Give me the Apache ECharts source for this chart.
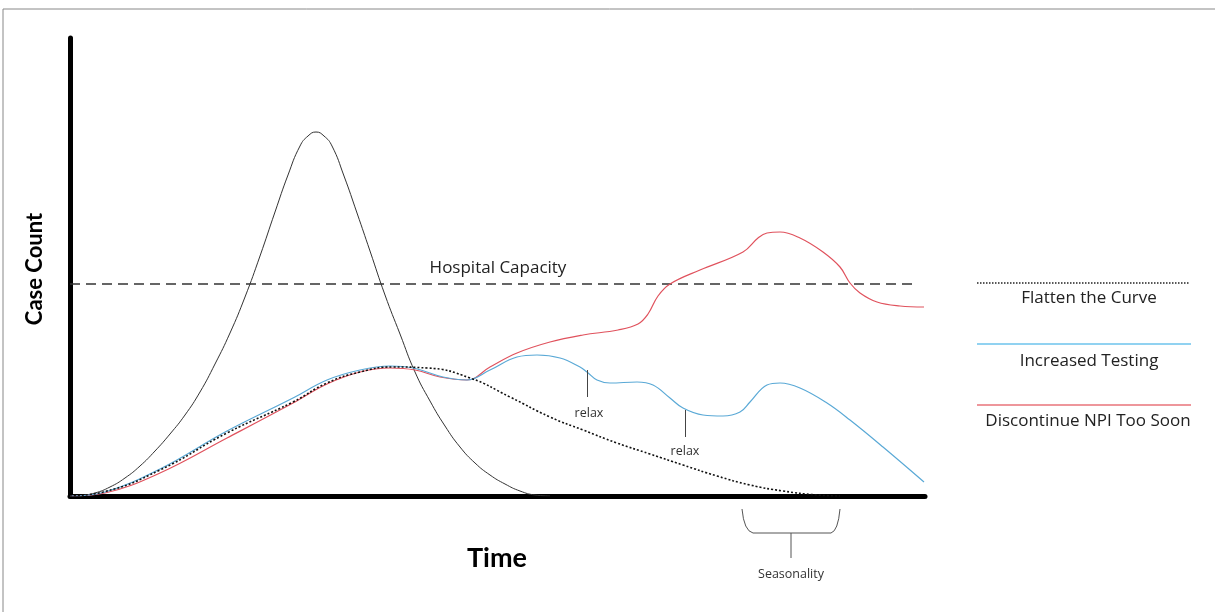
<!DOCTYPE html>
<html><head><meta charset="utf-8">
<script src="https://cdn.jsdelivr.net/npm/echarts@6/dist/echarts.min.js"></script>
<style>html,body{margin:0;padding:0;background:#fff}#c{width:1215px;height:612px}</style>
</head><body><div id="c"></div>
<script>
// time units (arbitrary) and case counts (arbitrary)
const noIntervention = [[10,0],[25,3],[40,9],[55,18],[70,30],[85,45],[100,62],[115,81],[130,104],[145,132],[160,163],[175,199],[190,240],[205,284],[218,321],[230,350],[238,360],[246,364],[254,360],[262,350],[274,320],[287,283],[300,245],[315,201],[330,162],[345,124],[360,95],[375,70],[390,49],[405,33],[420,21],[435,12],[450,5],[465,1],[480,0]];
const flattenCurve = [[0,0],[33,4],[90,26],[157,63],[223,94],[257,113],[290,124],[323,129],[357,128],[400,118],[440,99],[480,79],[513,66],[547,53],[580,42],[613,31],[647,20],[680,11],[713,5],[747,1],[770,0]];
const increasedTesting = [[0,0],[35,4],[90,27],[157,65],[223,98],[257,116],[290,126],[320,130],[343,128],[373,119],[397,116],[420,126],[447,139],[467,141],[490,138],[510,129],[517,124],[527,116],[540,113],[567,114],[583,111],[600,98],[613,88],[633,81],[653,80],[670,84],[680,94],[697,111],[710,113],[730,108],[757,93],[780,76],[813,49],[854,14]];
const discontinueNPI = [[0,0],[35,3],[90,23],[157,58],[223,93],[257,112],[290,124],[320,128],[345,126],[370,119],[397,116],[420,129],[447,143],[480,154],[513,161],[548,166],[568,172],[578,182],[588,200],[600,212],[630,226],[673,244],[688,258],[697,263],[710,264],[730,258],[753,244],[770,229],[780,213],[790,203],[807,194],[830,190],[854,189]];
const hospitalCapacity = [[0,212],[848,212]];
const relaxMarks = [[[517,126],[517,99]],[[615,86],[615,59]]];
const legendNames = ['Flatten the Curve','Increased Testing','Discontinue NPI Too Soon'];

const FONT = '"Open Sans", Lato, sans-serif';
const BFONT = 'Lato, "Open Sans", sans-serif';
const BLUE = '#5aa9d6', RED = '#e0525d';
const chart = echarts.init(document.getElementById('c'));
chart.setOption({
  animation:false,
  backgroundColor:'#fff',
  grid:{left:70,right:290,top:38,bottom:116},
  xAxis:{type:'value',min:0,max:855,axisLine:{show:true,onZero:false,lineStyle:{color:'#000',width:5}},axisTick:{show:false},axisLabel:{show:false},splitLine:{show:false}},
  yAxis:{type:'value',min:0,max:458,axisLine:{show:true,onZero:false,lineStyle:{color:'#000',width:5}},axisTick:{show:false},axisLabel:{show:false},splitLine:{show:false}},
  series:[
    {type:'line',name:'Hospital Capacity',data:hospitalCapacity,symbol:'none',lineStyle:{color:'#333',width:1.6,type:[10,6]},z:1},
    {type:'line',name:'No intervention',data:noIntervention,smooth:0.5,symbol:'none',lineStyle:{color:'#333',width:1}},
    {type:'line',name:legendNames[2],data:discontinueNPI,smooth:0.4,symbol:'none',lineStyle:{color:RED,width:1.2}},
    {type:'line',name:legendNames[1],data:increasedTesting,smooth:0.4,symbol:'none',lineStyle:{color:BLUE,width:1.2},
      markLine:{silent:true,symbol:'none',label:{show:false},lineStyle:{color:'#444',width:1,type:'solid'},
        data:relaxMarks.map(m=>[{coord:m[0]},{coord:m[1]}])}},
    {type:'line',name:legendNames[0],data:flattenCurve,smooth:0.5,symbol:'none',lineStyle:{color:'#111',width:1.6,type:[2,2]},z:5}
  ],
  graphic:[
    {type:'rect',shape:{x:3,y:9,width:1230,height:640},style:{fill:'none',stroke:'#888',lineWidth:1},silent:true,z:-1},
    {type:'text',x:35,y:269,rotation:Math.PI/2,style:{text:'Case Count',font:'bold 22px '+BFONT,fill:'#000',textAlign:'center',textVerticalAlign:'middle'}},
    {type:'text',x:497,y:558,style:{text:'Time',font:'bold 27px '+BFONT,fill:'#000',textAlign:'center',textVerticalAlign:'middle'}},
    {type:'text',x:498,y:268,style:{text:'Hospital Capacity',font:'17px '+FONT,fill:'#222',textAlign:'center',textVerticalAlign:'middle'}},
    {type:'text',x:589,y:413,style:{text:'relax',font:'12.5px '+FONT,fill:'#333',textAlign:'center',textVerticalAlign:'middle'}},
    {type:'text',x:685,y:451,style:{text:'relax',font:'12.5px '+FONT,fill:'#333',textAlign:'center',textVerticalAlign:'middle'}},
    {type:'bezierCurve',shape:{x1:742,y1:509,cpx1:744,cpy1:531,x2:753,y2:533},style:{fill:'none',stroke:'#555',lineWidth:1}},
    {type:'line',shape:{x1:753,y1:533,x2:831,y2:533},style:{stroke:'#555',lineWidth:1}},
    {type:'bezierCurve',shape:{x1:831,y1:533,cpx1:838,cpy1:531,x2:840,y2:509},style:{fill:'none',stroke:'#555',lineWidth:1}},
    {type:'line',shape:{x1:791,y1:533,x2:791,y2:558},style:{stroke:'#555',lineWidth:1}},
    {type:'text',x:791,y:574,style:{text:'Seasonality',font:'12.5px '+FONT,fill:'#333',textAlign:'center',textVerticalAlign:'middle'}},
    {type:'line',shape:{x1:977,y1:283,x2:1190,y2:283},style:{stroke:'#222',lineWidth:1.5,lineDash:[1.5,1.5]}},
    {type:'text',x:1089,y:298,style:{text:legendNames[0],font:'17px '+FONT,fill:'#222',textAlign:'center',textVerticalAlign:'middle'}},
    {type:'line',shape:{x1:977,y1:344,x2:1191,y2:344},style:{stroke:'#6cc3ec',lineWidth:1.5}},
    {type:'text',x:1089,y:361,style:{text:legendNames[1],font:'17px '+FONT,fill:'#222',textAlign:'center',textVerticalAlign:'middle'}},
    {type:'line',shape:{x1:977,y1:405,x2:1191,y2:405},style:{stroke:'#e8737a',lineWidth:1.5}},
    {type:'text',x:1088,y:421,style:{text:legendNames[2],font:'17px '+FONT,fill:'#222',textAlign:'center',textVerticalAlign:'middle'}}
  ]
});
</script></body></html>
